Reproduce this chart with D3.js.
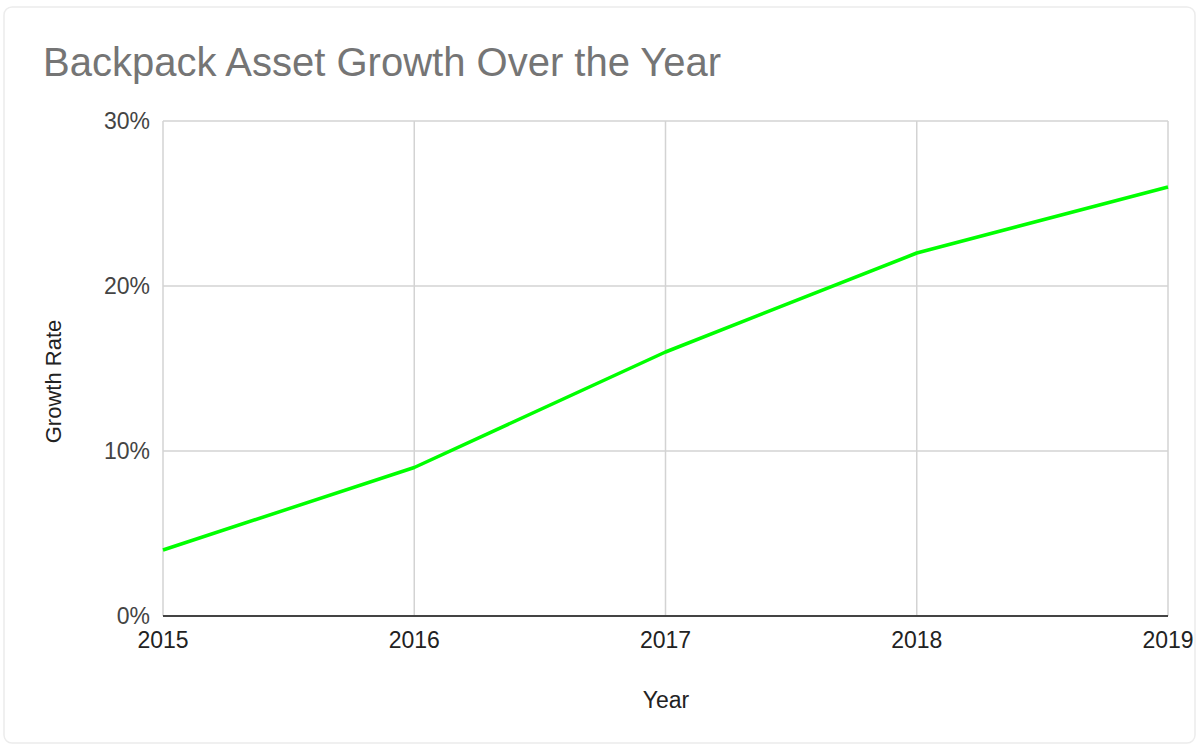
<!DOCTYPE html>
<html>
<head>
<meta charset="utf-8">
<script src="https://cdn.jsdelivr.net/npm/d3@7"></script>
<style>
  body { margin: 0; background: #fff; font-family: "Liberation Sans", Arial, sans-serif; }
</style>
</head>
<body>
<div id="chart"></div>
<script>
// chart data
const years = [2015, 2016, 2017, 2018, 2019];
const growth = [0.04, 0.09, 0.16, 0.22, 0.26];
const yTicks = [0, 0.1, 0.2, 0.3];

const width = 1199, height = 746;
const margin = { top: 121, right: 31, bottom: 130, left: 163 };

const svg = d3.select('#chart')
  .append('svg')
  .attr('width', width)
  .attr('height', height);

// card outline
svg.append('rect')
  .attr('x', 4).attr('y', 7)
  .attr('width', width - 8).attr('height', height - 10)
  .attr('rx', 8)
  .attr('fill', '#fff')
  .attr('stroke', '#ececec')
  .attr('stroke-width', 1.5);

const x = d3.scaleLinear()
  .domain(d3.extent(years))
  .range([margin.left, width - margin.right]);

const y = d3.scaleLinear()
  .domain([0, 0.3])
  .range([height - margin.bottom, margin.top]);

// horizontal grid
svg.append('g')
  .selectAll('line')
  .data(yTicks.slice(1))
  .enter()
  .append('line')
  .attr('x1', margin.left).attr('x2', width - margin.right)
  .attr('y1', d => y(d)).attr('y2', d => y(d))
  .attr('stroke', '#d3d3d3')
  .attr('stroke-width', 1.5);

// vertical grid
svg.append('g')
  .selectAll('line')
  .data(years)
  .enter()
  .append('line')
  .attr('x1', d => x(d)).attr('x2', d => x(d))
  .attr('y1', y(0.3)).attr('y2', y(0))
  .attr('stroke', '#d3d3d3')
  .attr('stroke-width', 1.5);

// baseline
svg.append('line')
  .attr('x1', margin.left).attr('x2', width - margin.right)
  .attr('y1', y(0)).attr('y2', y(0))
  .attr('stroke', '#444')
  .attr('stroke-width', 2);

// y tick labels
svg.append('g')
  .selectAll('text')
  .data(yTicks)
  .enter()
  .append('text')
  .attr('x', margin.left - 13)
  .attr('y', d => y(d))
  .attr('dy', '0.35em')
  .attr('text-anchor', 'end')
  .style('font-size', '23px')
  .style('fill', '#444')
  .text(d => d3.format('.0%')(d));

// x tick labels
svg.append('g')
  .selectAll('text')
  .data(years)
  .enter()
  .append('text')
  .attr('x', d => x(d))
  .attr('y', y(0) + 32)
  .attr('text-anchor', 'middle')
  .style('font-size', '23px')
  .style('fill', '#222')
  .text(d => d);

// the line
const line = d3.line()
  .x((d, i) => x(years[i]))
  .y(d => y(d));

svg.append('path')
  .datum(growth)
  .attr('d', line)
  .attr('fill', 'none')
  .attr('stroke', '#00ff00')
  .attr('stroke-width', 3.5)
  .attr('stroke-linejoin', 'round');

// title
svg.append('text')
  .attr('x', 43).attr('y', 76)
  .style('font-size', '40px')
  .style('fill', '#757575')
  .text('Backpack Asset Growth Over the Year');

// axis titles
svg.append('text')
  .attr('x', 666)
  .attr('y', 708)
  .attr('text-anchor', 'middle')
  .style('font-size', '23px')
  .style('fill', '#222')
  .text('Year');

svg.append('text')
  .attr('transform', `translate(61, ${(y(0) + y(0.3)) / 2 + 13}) rotate(-90)`)
  .attr('text-anchor', 'middle')
  .style('font-size', '22px')
  .style('fill', '#222')
  .text('Growth Rate');
</script>
</body>
</html>
